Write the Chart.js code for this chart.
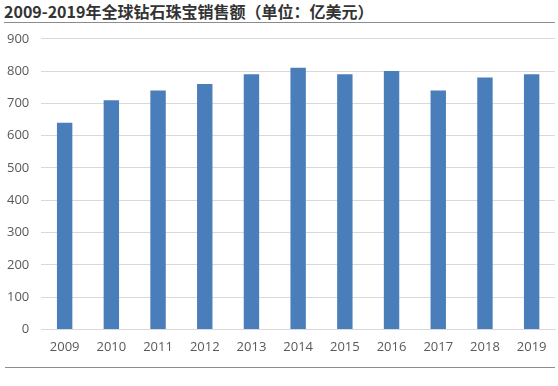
<!DOCTYPE html>
<html lang="zh">
<head>
    <meta charset="UTF-8">
    <title>全球钻石珠宝销售额</title>
    <script src="https://cdn.jsdelivr.net/npm/chart.js"></script>
    <style>
        body { margin: 0; width: 558px; height: 386px; background: #fff; position: relative; overflow: hidden; font-family: "Noto Sans CJK SC", "Noto Sans", sans-serif; }
        #title { position: absolute; left: 4px; top: 0; width: 551px; height: 22px; border-bottom: 1px solid #8c8c8c;
                 font-size: 16px; font-weight: bold; color: #333; line-height: 22px; }
        #wrap { position: absolute; left: 0; top: 19px; width: 558px; height: 338px; }
        #bottomLine { position: absolute; left: 5px; top: 367px; width: 550px; border-top: 1px solid #8c8c8c; }
    </style>
</head>
<body>
    <div id="title">2009-2019年全球钻石珠宝销售额（单位：亿美元）</div>
    <div id="wrap"><canvas id="myChart"></canvas></div>
    <div id="bottomLine"></div>

    <script>
        const years = ['2009', '2010', '2011', '2012', '2013', '2014', '2015', '2016', '2017', '2018', '2019'];
        const sales = [640, 710, 740, 760, 790, 810, 790, 800, 740, 780, 790];

        const ctx = document.getElementById('myChart').getContext('2d');
        new Chart(ctx, {
            type: 'bar',
            data: {
                labels: years,
                datasets: [{
                    label: '销售额',
                    data: sales,
                    backgroundColor: '#4a7ebb',
                    categoryPercentage: 1,
                    barPercentage: 0.33
                }]
            },
            options: {
                responsive: true,
                maintainAspectRatio: false,
                animation: false,
                // negative left padding pulls the y labels out to the edge like the original
                layout: { padding: { left: -5, right: 3, top: 3, bottom: 0 } },
                plugins: { legend: { display: false }, tooltip: { enabled: false } },
                scales: {
                    x: {
                        grid: { display: false },
                        border: { display: true, color: '#d9d9d9' },
                        ticks: { color: '#595959', font: { size: 13, family: 'Open Sans' }, padding: 2 }
                    },
                    y: {
                        min: 0,
                        max: 900,
                        ticks: { stepSize: 100, color: '#595959', font: { size: 13, family: 'Open Sans' }, padding: 12 },
                        grid: { color: '#d9d9d9', drawTicks: false },
                        border: { display: false }
                    }
                }
            }
        });
    </script>
</body>
</html>
